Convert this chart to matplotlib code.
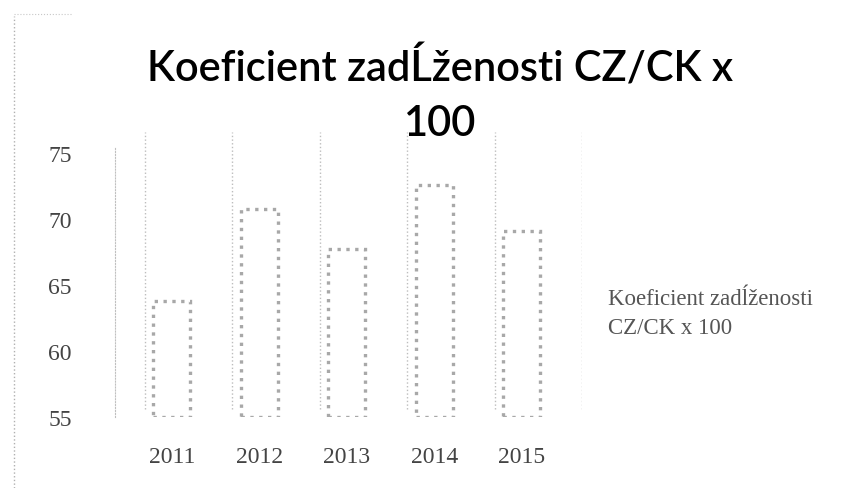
import numpy as np
import matplotlib
matplotlib.use("Agg")
import matplotlib.pyplot as plt
from matplotlib.lines import Line2D

# data
years = ["2011", "2012", "2013", "2014", "2015"]
values = [63.8, 70.8, 67.7, 72.6, 69.1]
yticks = [55, 60, 65, 70, 75]
title = "Koeficient zadĹženosti CZ/CK x\n100"
series_name = "Koeficient zadĺženosti\nCZ/CK x 100"

fig = plt.figure(figsize=(8.53, 4.89), dpi=100)
fig.patch.set_facecolor("white")

ax = fig.add_axes([115 / 853, 71 / 489, 467 / 853, 285 / 489])
x = np.arange(len(years))

ax.bar(x, np.array(values) - 55, bottom=55, width=0.42,
       facecolor="white", edgecolor="#a8a8a8", linewidth=2.4, linestyle=":")

# back wall gridlines (dotted, faint)
ax.vlines(np.arange(len(years) + 1) - 0.31, 55.6, 76.6,
          colors="#bdbdbd", linestyles=":", linewidth=1.0)

ax.set_xlim(-0.65, 4.69)
ax.set_ylim(55, 76.6)
ax.set_xticks(x)
ax.set_xticklabels(years)
ax.set_yticks(yticks)

for s in ["top", "right", "bottom"]:
    ax.spines[s].set_visible(False)
ax.spines["left"].set_color("#c0c0c0")
ax.spines["left"].set_linestyle(":")
ax.spines["left"].set_bounds(55, 75.5)
ax.tick_params(length=0, colors="#444444", labelsize=17)
ax.tick_params(axis="y", pad=31)
ax.tick_params(axis="x", pad=21)
for lbl in ax.get_xticklabels() + ax.get_yticklabels():
    lbl.set_family("Liberation Serif")

fig.text(440 / 853, 1 - 46 / 489, title, ha="center", va="top",
         fontsize=30, family="Lato", fontweight="semibold", color="black",
         linespacing=1.55)

fig.text(608 / 853, 1 - 314 / 489, series_name, ha="left", va="center",
         fontsize=16.5, family="Liberation Serif", color="#555555", linespacing=1.45)

# faint dotted chart border on the left/top
fig.add_artist(Line2D([14 / 853, 14 / 853], [0, 1 - 17 / 489],
                      transform=fig.transFigure, color="#b0b0b0",
                      linestyle=":", linewidth=1.0))
fig.add_artist(Line2D([14 / 853, 72 / 853], [1 - 15 / 489, 1 - 15 / 489],
                      transform=fig.transFigure, color="#c8c8c8",
                      linestyle=":", linewidth=0.8))

fig.savefig("out.png", dpi=100)
